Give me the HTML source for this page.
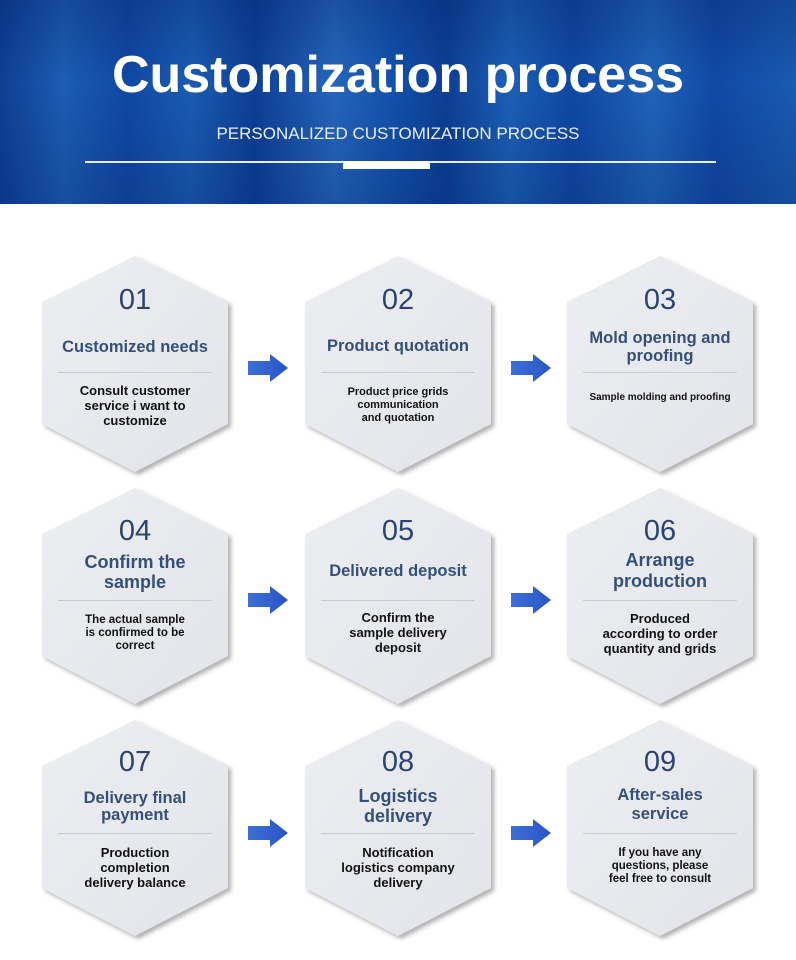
<!DOCTYPE html>
<html><head><meta charset="utf-8">
<style>
*{margin:0;padding:0;box-sizing:border-box}
body{width:796px;height:960px;background:#fff;position:relative;overflow:hidden;font-family:"Liberation Sans",sans-serif}
.hdr{position:absolute;left:0;top:0;width:796px;height:204px;
background:linear-gradient(90deg,#0e3f94 0%,#1c5db3 8%,#1048a3 16%,#1a5cb3 24%,#0d3f96 32%,#2566bc 42%,#1150aa 50%,#0d3f95 56%,#1c60b6 64%,#0f48a3 72%,#2064b9 82%,#1049a5 90%,#1a5bb1 100%)}
.hdr:after{content:"";position:absolute;left:0;top:0;right:0;bottom:0;background:linear-gradient(180deg,rgba(0,20,80,.25),rgba(255,255,255,0) 40%,rgba(0,20,80,.2))}
.t1{position:absolute;left:0;width:796px;top:45px;text-align:center;color:#fff;font-weight:bold;font-size:52px;z-index:2}
.t2{position:absolute;left:0;width:796px;top:124px;text-align:center;color:#e8eef8;font-size:17px;z-index:2}
.ln{position:absolute;left:85px;top:161px;width:631px;height:2px;background:#e6eef8;z-index:2}
.blk{position:absolute;left:343px;top:161px;width:87px;height:8px;background:#fff;z-index:2}
.tx{position:absolute;width:180px;text-align:center;color:#2c4670;font-weight:bold}
.num{font-size:29px;font-weight:normal;color:#2a4470}
.ti{font-size:16.5px;line-height:19px;color:#34507a}
.de{font-size:13px;line-height:15px;color:#111}
.dv{position:absolute;width:154px;height:1px;background:#c9cbd2}
</style></head><body>
<div class="hdr"></div>
<div class="t1">Customization process</div>
<div class="t2">PERSONALIZED CUSTOMIZATION PROCESS</div>
<div class="ln"></div><div class="blk"></div>

<svg width="796" height="960" style="position:absolute;left:0;top:0">
<defs>
<linearGradient id="g" x1="0" y1="0" x2="1" y2="1"><stop offset="0" stop-color="#eceef2"/><stop offset="1" stop-color="#e2e4e9"/></linearGradient>
<linearGradient id="a" x1="0" y1="0" x2="1" y2="0"><stop offset="0" stop-color="#3d6fd6"/><stop offset="1" stop-color="#2a55c5"/></linearGradient>
<filter id="s" x="-10%" y="-10%" width="130%" height="130%"><feDropShadow dx="3" dy="3" stdDeviation="2" flood-color="#555" flood-opacity=".45"/></filter>
<g id="h"><polygon points="0,0 93,46 93,168 0,216 -93,168 -93,46" fill="url(#g)" filter="url(#s)"/></g>
<g id="ar"><polygon points="0,-7 22,-7 22,-14 40,0 22,14 22,7 0,7" fill="url(#a)"/></g>
</defs>
<use href="#h" x="135" y="256"/><use href="#h" x="398" y="256"/><use href="#h" x="660" y="256"/>
<use href="#h" x="135" y="488"/><use href="#h" x="398" y="488"/><use href="#h" x="660" y="488"/>
<use href="#h" x="135" y="720"/><use href="#h" x="398" y="720"/><use href="#h" x="660" y="720"/>
<use href="#ar" x="248" y="368"/><use href="#ar" x="511" y="368"/>
<use href="#ar" x="248" y="600"/><use href="#ar" x="511" y="600"/>
<use href="#ar" x="248" y="833"/><use href="#ar" x="511" y="833"/>
</svg>

<!-- row 1 -->
<div class="tx num" style="left:45px;top:284px">01</div>
<div class="tx ti" style="left:45px;top:338px">Customized needs</div>
<div class="dv" style="left:58px;top:372px"></div>
<div class="tx de" style="left:45px;top:383px">Consult customer<br>service i want to<br>customize</div>

<div class="tx num" style="left:308px;top:284px">02</div>
<div class="tx ti" style="left:308px;top:337px">Product quotation</div>
<div class="dv" style="left:321px;top:372px"></div>
<div class="tx de" style="left:308px;top:386px;font-size:11px;line-height:13px">Product price grids<br>communication<br>and quotation</div>

<div class="tx num" style="left:570px;top:284px">03</div>
<div class="tx ti" style="left:570px;top:329px;line-height:18px">Mold opening and<br>proofing</div>
<div class="dv" style="left:583px;top:372px"></div>
<div class="tx de" style="left:560px;top:390px;width:200px;font-size:10px">Sample molding and proofing</div>

<!-- row 2 -->
<div class="tx num" style="left:45px;top:515px">04</div>
<div class="tx ti" style="left:45px;top:552px;font-size:18px;line-height:20px">Confirm the<br>sample</div>
<div class="dv" style="left:58px;top:600px"></div>
<div class="tx de" style="left:45px;top:614px;font-size:11.5px;line-height:13px">The actual sample<br>is confirmed to be<br>correct</div>

<div class="tx num" style="left:308px;top:515px">05</div>
<div class="tx ti" style="left:298px;top:562px;width:200px">Delivered deposit</div>
<div class="dv" style="left:321px;top:600px"></div>
<div class="tx de" style="left:308px;top:610px">Confirm the<br>sample delivery<br>deposit</div>

<div class="tx num" style="left:570px;top:515px">06</div>
<div class="tx ti" style="left:570px;top:550px;font-size:18px;line-height:21px">Arrange<br>production</div>
<div class="dv" style="left:583px;top:600px"></div>
<div class="tx de" style="left:570px;top:611px">Produced<br>according to order<br>quantity and grids</div>

<!-- row 3 -->
<div class="tx num" style="left:45px;top:746px">07</div>
<div class="tx ti" style="left:45px;top:790px;line-height:17px">Delivery final<br>payment</div>
<div class="dv" style="left:58px;top:833px"></div>
<div class="tx de" style="left:45px;top:845px">Production<br>completion<br>delivery balance</div>

<div class="tx num" style="left:308px;top:746px">08</div>
<div class="tx ti" style="left:308px;top:786px;font-size:18px;line-height:20px">Logistics<br>delivery</div>
<div class="dv" style="left:321px;top:833px"></div>
<div class="tx de" style="left:308px;top:845px">Notification<br>logistics company<br>delivery</div>

<div class="tx num" style="left:570px;top:746px">09</div>
<div class="tx ti" style="left:570px;top:786px;line-height:19px">After-sales<br>service</div>
<div class="dv" style="left:583px;top:833px"></div>
<div class="tx de" style="left:570px;top:847px;font-size:11.5px;line-height:13px">If you have any<br>questions, please<br>feel free to consult</div>
</body></html>
